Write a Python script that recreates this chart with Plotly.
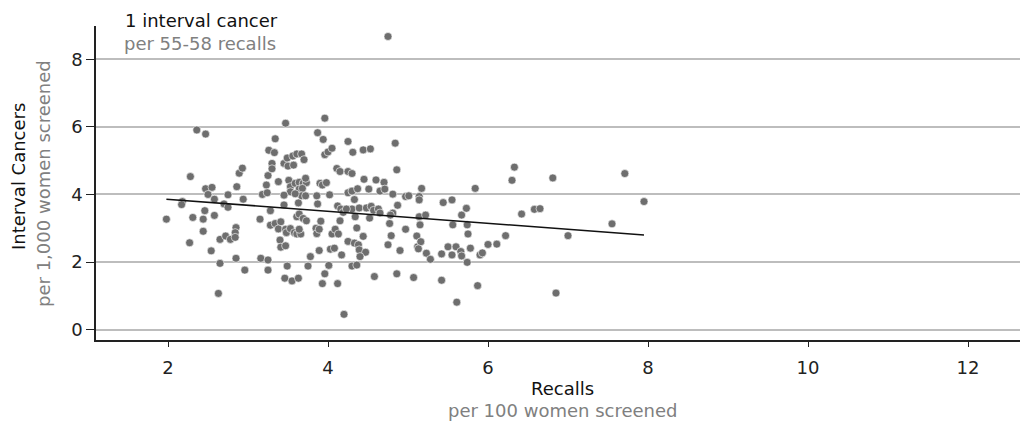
import plotly.graph_objects as go

# Recalls per 100 women screened
recalls = [
    1.98, 2.18, 2.17, 2.28, 2.31, 2.36, 2.27, 2.47, 2.47, 2.55, 2.50, 2.46, 2.44, 2.44, 2.58, 2.58,
    2.54, 2.63, 2.65, 2.65, 2.72, 2.78, 2.75, 2.70, 2.75, 2.85, 2.84, 2.84, 2.85, 2.86, 2.89, 2.93,
    2.94, 2.96, 3.15, 3.16, 3.25, 3.25, 3.18, 3.23, 3.24, 3.25, 3.26, 3.33, 3.34, 3.30, 3.30, 3.28,
    3.28, 3.34, 3.41, 3.40, 3.41, 3.47, 3.38, 3.38, 3.45, 3.49, 3.56, 3.47, 3.50, 3.57, 3.61, 3.67,
    3.70, 3.51, 3.53, 3.53, 3.45, 3.45, 3.47, 3.48, 3.53, 3.58, 3.61, 3.66, 3.64, 3.59, 3.64, 3.64,
    3.69, 3.73, 3.72, 3.68, 3.67, 3.59, 3.72, 3.61, 3.64, 3.69, 3.73, 3.63, 3.49, 3.46, 3.55, 3.63,
    3.75, 3.78, 3.85, 3.86, 3.89, 3.91, 3.87, 3.86, 3.90, 3.93, 3.98, 3.87, 3.94, 3.96, 3.96, 4.00,
    4.05, 3.89, 3.93, 3.96, 4.01, 4.03, 4.08, 4.05, 4.09, 4.13, 4.15, 4.12, 4.17, 4.20, 4.02, 4.11,
    4.15, 4.12, 4.16, 4.19, 4.25, 4.31, 4.25, 4.30, 4.25, 4.30, 4.33, 4.30, 4.23, 4.39, 4.45, 4.37,
    4.44, 4.53, 4.34, 4.36, 4.25, 4.33, 4.44, 4.38, 4.39, 4.47, 4.40, 4.30, 4.36, 4.58, 4.51, 4.60,
    4.65, 4.70, 4.71, 4.48, 4.54, 4.57, 4.63, 4.52, 4.65, 4.75, 4.84, 4.75, 4.79, 4.77, 4.81, 4.86,
    4.86, 4.81, 4.87, 4.78, 4.90, 4.97, 4.97, 5.01, 5.07, 5.11, 5.12, 5.16, 5.13, 5.14, 5.14, 5.17,
    5.14, 5.22, 5.15, 5.23, 5.28, 5.42, 5.42, 5.44, 5.50, 5.55, 5.56, 5.55, 5.60, 5.66, 5.61, 5.67,
    5.73, 5.74, 5.75, 5.78, 5.74, 5.84, 5.87, 5.90, 5.93, 6.00, 6.11, 5.67, 6.22, 6.30, 6.33, 6.42,
    6.58, 6.65, 6.81, 6.85, 7.00, 7.55, 7.71, 7.95,
]
# Interval cancers per 1,000 women screened
interval_cancers = [
    3.27, 3.79, 3.70, 4.53, 3.32, 5.91, 2.57, 5.79, 4.17, 4.21, 4.00, 3.52, 3.27, 2.91, 3.86, 3.38,
    2.33, 1.07, 1.96, 2.67, 2.77, 2.67, 3.99, 3.72, 3.62, 3.02, 2.87, 2.73, 2.11, 4.23, 4.63, 4.78,
    3.86, 1.76, 3.27, 2.11, 2.06, 1.76, 4.00, 4.28, 4.05, 4.56, 5.31, 5.24, 5.65, 4.92, 4.76, 3.52,
    3.09, 3.14, 3.19, 2.65, 2.44, 2.48, 2.98, 4.38, 4.92, 5.08, 5.14, 6.11, 4.84, 4.87, 5.20, 5.20,
    5.03, 4.42, 4.23, 4.08, 3.98, 3.69, 2.97, 2.87, 2.99, 2.87, 2.83, 2.83, 2.97, 4.33, 4.36, 4.16,
    4.33, 4.35, 4.48, 4.18, 3.96, 4.02, 3.96, 3.34, 3.42, 3.29, 3.22, 3.75, 1.88, 1.52, 1.44, 1.52,
    1.88, 2.16, 3.00, 2.84, 2.97, 3.21, 3.72, 3.96, 4.33, 4.28, 4.35, 5.83, 5.63, 6.26, 5.18, 5.26,
    5.37, 2.34, 1.36, 1.65, 1.90, 2.38, 2.41, 2.83, 2.97, 2.83, 3.22, 1.36, 2.21, 0.45, 3.99, 4.77,
    4.68, 3.66, 3.57, 3.47, 5.57, 5.25, 4.68, 4.62, 4.05, 4.10, 3.85, 3.57, 3.57, 3.60, 4.45, 4.17,
    5.32, 5.35, 3.34, 3.01, 2.61, 2.56, 2.76, 2.51, 2.36, 2.29, 2.16, 1.88, 1.91, 1.57, 4.16, 4.43,
    4.10, 4.36, 4.16, 3.60, 3.65, 3.53, 3.57, 3.30, 3.45, 8.68, 5.52, 2.51, 2.78, 3.14, 3.45, 1.65,
    4.73, 4.01, 3.68, 3.39, 2.34, 2.97, 3.94, 3.96, 1.54, 2.77, 2.45, 2.60, 2.39, 3.94, 3.84, 4.18,
    3.34, 3.39, 3.10, 2.26, 2.08, 2.24, 1.46, 3.76, 2.45, 3.84, 3.10, 2.21, 2.45, 2.31, 0.81, 3.39,
    3.59, 3.10, 2.83, 2.41, 1.99, 4.18, 1.30, 2.21, 2.27, 2.52, 2.53, 2.18, 2.78, 4.42, 4.81, 3.42,
    3.56, 3.58, 4.49, 1.08, 2.78, 3.13, 4.62, 3.79,
]

# Fitted trend line end points
fit_x = [1.98, 7.95]
fit_y = [3.86, 2.80]

x_ticks = [2, 4, 6, 8, 10, 12]
y_ticks = [0, 2, 4, 6, 8]

FONT = "DejaVu Sans"

fig = go.Figure()
fig.add_trace(go.Scatter(
    x=recalls, y=interval_cancers, mode="markers",
    marker=dict(color="#6e6e6e", size=8, line=dict(color="white", width=0.6)),
    showlegend=False, hoverinfo="x+y",
))
fig.add_trace(go.Scatter(
    x=fit_x, y=fit_y, mode="lines",
    line=dict(color="#111111", width=1.6),
    showlegend=False, hoverinfo="skip",
))

fig.update_layout(
    width=1020, height=425,
    margin=dict(l=96, r=0, t=26, b=85),
    paper_bgcolor="white", plot_bgcolor="white",
    font=dict(family=FONT, size=18, color="#222222"),
    xaxis=dict(
        range=[1.1, 12.65], tickvals=x_ticks, ticktext=[str(v) for v in x_ticks],
        showgrid=False, zeroline=False, showline=True, linecolor="#222222", linewidth=1.5,
        ticks="outside", ticklen=5, tickcolor="#222222", tickwidth=1.2,
        tickfont=dict(family=FONT, size=18, color="#222222"), ticklabelstandoff=6,
    ),
    yaxis=dict(
        range=[-0.31, 8.99], tickvals=y_ticks, ticktext=[str(v) for v in y_ticks],
        showgrid=True, gridcolor="#bdbdbd", gridwidth=1.5, zeroline=False,
        showline=True, linecolor="#222222", linewidth=1.5,
        ticks="outside", ticklen=8, tickcolor="#222222", tickwidth=1.2,
        tickfont=dict(family=FONT, size=18, color="#222222"),
    ),
    annotations=[
        dict(text="1 interval cancer", x=0.0292, y=1.019, xref="paper", yref="paper",
             xanchor="left", yanchor="middle", showarrow=False,
             font=dict(family=FONT, size=18, color="#111111")),
        dict(text="per 55-58 recalls", x=0.0281, y=0.943, xref="paper", yref="paper",
             xanchor="left", yanchor="middle", showarrow=False,
             font=dict(family=FONT, size=18, color="#808080")),
        dict(text="Interval Cancers", x=-0.0844, y=0.519, xref="paper", yref="paper",
             xanchor="center", yanchor="middle", textangle=-90, showarrow=False,
             font=dict(family=FONT, size=18, color="#111111")),
        dict(text="per 1,000 women screened", x=-0.0574, y=0.50, xref="paper", yref="paper",
             xanchor="center", yanchor="middle", textangle=-90, showarrow=False,
             font=dict(family=FONT, size=18, color="#808080")),
        dict(text="Recalls", x=0.505, y=-0.153, xref="paper", yref="paper",
             xanchor="center", yanchor="middle", showarrow=False,
             font=dict(family=FONT, size=18, color="#111111")),
        dict(text="per 100 women screened", x=0.505, y=-0.223, xref="paper", yref="paper",
             xanchor="center", yanchor="middle", showarrow=False,
             font=dict(family=FONT, size=18, color="#808080")),
    ],
)

fig.write_html("out.html")
